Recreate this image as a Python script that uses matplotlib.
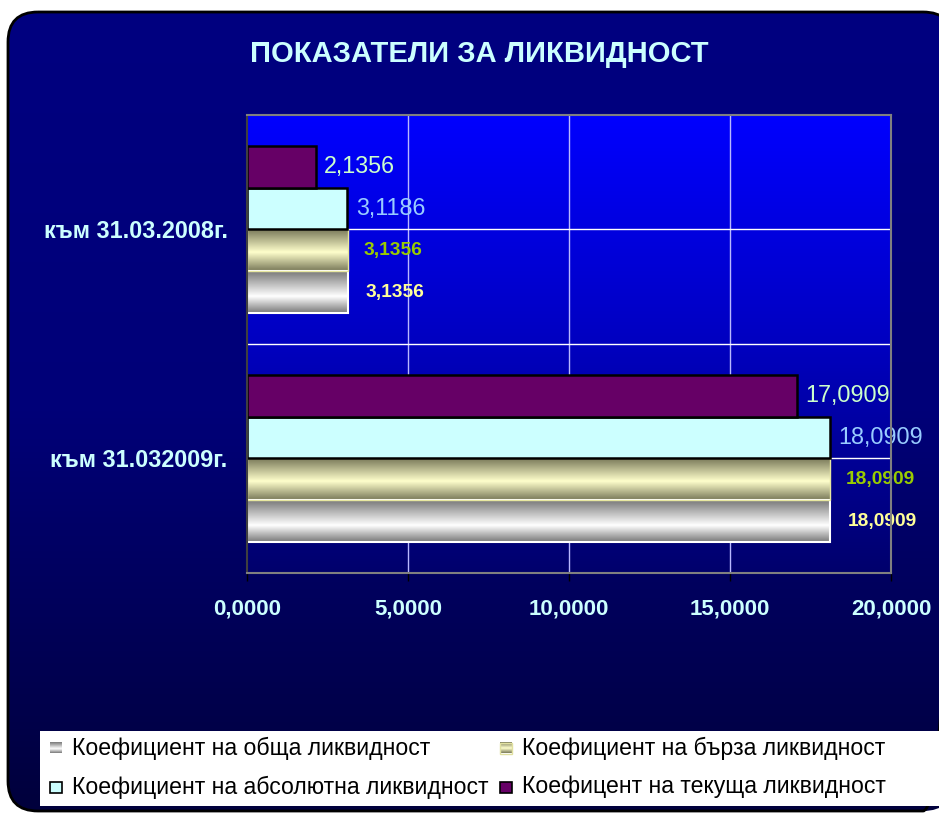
import numpy as np
import matplotlib
matplotlib.use('Agg')
import matplotlib.pyplot as plt
from matplotlib.patches import FancyBboxPatch, Rectangle
from matplotlib.colors import LinearSegmentedColormap

plt.rcParams['font.family'] = ['Liberation Sans', 'DejaVu Sans']

# ---------------- data ----------------
title = 'ПОКАЗАТЕЛИ ЗА ЛИКВИДНОСТ'
categories = ['към 31.032009г.', 'към 31.03.2008г.']   # bottom -> top
series_names = ['Коефициент на обща ликвидност',
                'Коефициент на бърза ликвидност',
                'Коефициент на абсолютна ликвидност',
                'Коефицент на текуща ликвидност']
obshta = [18.0909, 3.1356]
barza = [18.0909, 3.1356]
absolutna = [18.0909, 3.1186]
tekushta = [17.0909, 2.1356]
xticks = [0, 5, 10, 15, 20]

def fmt(v):
    return f"{v:.4f}".replace('.', ',')

W, H = 939, 814
fig = plt.figure(figsize=(W / 100, H / 100), dpi=100)
fig.patch.set_facecolor('white')

# ---------------- background frame ----------------
bg = fig.add_axes([0, 0, 1, 1])
bg.set_xlim(0, W)
bg.set_ylim(H, 0)
bg.axis('off')
frame_cmap = LinearSegmentedColormap.from_list('frame', ['#000080', '#000078', '#00003c'])
grad = np.linspace(0, 1, 256).reshape(-1, 1)
frame = FancyBboxPatch((8, 12), 945, 799, boxstyle='round,pad=0,rounding_size=30',
                       facecolor='none', edgecolor='black', linewidth=2, zorder=2)
bg.add_patch(frame)
im = bg.imshow(grad, cmap=frame_cmap, extent=[8, 953, 811, 12], aspect='auto',
               origin='upper', zorder=1, interpolation='bilinear')
im.set_clip_path(frame)
bg.set_xlim(0, W)
bg.set_ylim(H, 0)

# legend box
bg.add_patch(Rectangle((40, 731), 920, 75, facecolor='white', edgecolor='none', zorder=3))

silver_cmap = LinearSegmentedColormap.from_list('silver', [(0, '#787878'), (0.6, '#ffffff'), (1, '#787878')])
gold_cmap = LinearSegmentedColormap.from_list('gold', [(0, '#787858'), (0.55, '#ffffcc'), (1, '#787858')])

leg_styles = [
    dict(kind='grad', cmap=silver_cmap, edge='none'),
    dict(kind='grad', cmap=gold_cmap, edge='#e0e0a0'),
    dict(kind='solid', face='#ccffff', edge='black'),
    dict(kind='solid', face='#660066', edge='black'),
]
leg_pos = [(50, 748), (500, 748), (50, 787), (500, 787)]
for name, st, (lx, ly) in zip(series_names, leg_styles, leg_pos):
    mw, mh = 12, 11
    if st['kind'] == 'grad':
        bg.imshow(grad, cmap=st['cmap'], extent=[lx, lx + mw, ly + mh / 2, ly - mh / 2],
                  aspect='auto', origin='upper', zorder=4, interpolation='bilinear')
        if st['edge'] != 'none':
            bg.add_patch(Rectangle((lx, ly - mh / 2), mw, mh, facecolor='none',
                                   edgecolor=st['edge'], linewidth=1, zorder=5))
    else:
        bg.add_patch(Rectangle((lx, ly - mh / 2), mw, mh, facecolor=st['face'],
                               edgecolor=st['edge'], linewidth=1.2, zorder=5))
    bg.text(lx + 22, ly, name, ha='left', va='center', fontsize=16.6, color='black', zorder=6)
bg.set_xlim(0, W)
bg.set_ylim(H, 0)

# title
fig.text(479 / W, 1 - 54 / H, title, ha='center', va='center', fontsize=21,
         fontweight='bold', color='#ccffff')

# ---------------- main axes ----------------
x0, x1, y0, y1 = 247, 891, 115, 573
ax = fig.add_axes([x0 / W, 1 - y1 / H, (x1 - x0) / W, (y1 - y0) / H])
ax.set_facecolor('none')
plot_cmap = LinearSegmentedColormap.from_list('plot', ['#00006c', '#0000c0', '#0000ff'])
ax.imshow(np.linspace(0, 1, 256).reshape(-1, 1), cmap=plot_cmap, extent=[0, 1, 0, 1],
          transform=ax.transAxes, aspect='auto', origin='lower', zorder=0,
          interpolation='bilinear')

h = 0.182
y = np.arange(len(categories))
series = [obshta, barza, absolutna, tekushta]
offsets = [-1.5 * h, -0.5 * h, 0.5 * h, 1.5 * h]

for gx in xticks[1:-1]:
    ax.axvline(gx, color='#b8b8ff', lw=1, zorder=1)
for gy in [0, 0.5, 1]:
    ax.axhline(gy, color='white', lw=1, zorder=1)

# silver (обща)
b_silver = ax.barh(y + offsets[0], obshta, height=h, color='#c0c0c0', edgecolor='none', zorder=3)
for p in b_silver:
    bx, by, bw, bh = p.get_x(), p.get_y(), p.get_width(), p.get_height()
    ax.imshow(grad, cmap=silver_cmap, extent=[bx, bx + bw, by, by + bh], aspect='auto',
              origin='upper', zorder=4, interpolation='bilinear')
    ax.add_patch(Rectangle((bx, by), bw, bh, facecolor='none', edgecolor='white', lw=1.5, zorder=5))
# gold (бърза)
b_gold = ax.barh(y + offsets[1], barza, height=h, color='#e0e0b0', edgecolor='none', zorder=3)
for p in b_gold:
    bx, by, bw, bh = p.get_x(), p.get_y(), p.get_width(), p.get_height()
    ax.imshow(grad, cmap=gold_cmap, extent=[bx, bx + bw, by, by + bh], aspect='auto',
              origin='upper', zorder=4, interpolation='bilinear')
    ax.add_patch(Rectangle((bx, by), bw, bh, facecolor='none', edgecolor='#e8e8a0', lw=1.0, zorder=5))
# cyan (абсолютна)
b_cyan = ax.barh(y + offsets[2], absolutna, height=h, color='#ccffff', edgecolor='black', lw=1.8, zorder=6)
# purple (текуща)
b_purple = ax.barh(y + offsets[3], tekushta, height=h, color='#660066', edgecolor='black', lw=1.8, zorder=6)

label_styles = [
    dict(color='#ffff99', size=13.8, weight='bold', off=18),
    dict(color='#99cc00', size=13.8, weight='bold', off=16),
    dict(color='#99ccff', size=16.8, weight='normal', off=9),
    dict(color='#ccffcc', size=16.8, weight='normal', off=8),
]
for vals, off_y, st in zip(series, offsets, label_styles):
    for yi, v in zip(y, vals):
        ax.annotate(fmt(v), xy=(v, yi + off_y), xytext=(st['off'] * 0.72, 0),
                    textcoords='offset points', ha='left', va='center',
                    fontsize=st['size'], fontweight=st['weight'], color=st['color'],
                    zorder=7, annotation_clip=False)

ax.set_xlim(0, 20)
ax.set_ylim(-0.5, 1.5)
ax.set_xticks(xticks)
ax.set_xticklabels([fmt(t) for t in xticks], fontsize=16, fontweight='bold', color='#ccffff')
ax.set_yticks(y)
ax.set_yticklabels(categories, fontsize=16.8, fontweight='bold', color='#ccffff')
ax.tick_params(axis='x', direction='out', length=6, width=1, color='black', pad=12)
ax.tick_params(axis='y', length=0, pad=14)
for s in ['top', 'right', 'bottom']:
    ax.spines[s].set_color('#808080')
    ax.spines[s].set_linewidth(1.5)
ax.spines['left'].set_color('#404040')
ax.spines['left'].set_linewidth(1.5)
for s in ax.spines.values():
    s.set_zorder(8)

fig.savefig('out.png', dpi=100)
